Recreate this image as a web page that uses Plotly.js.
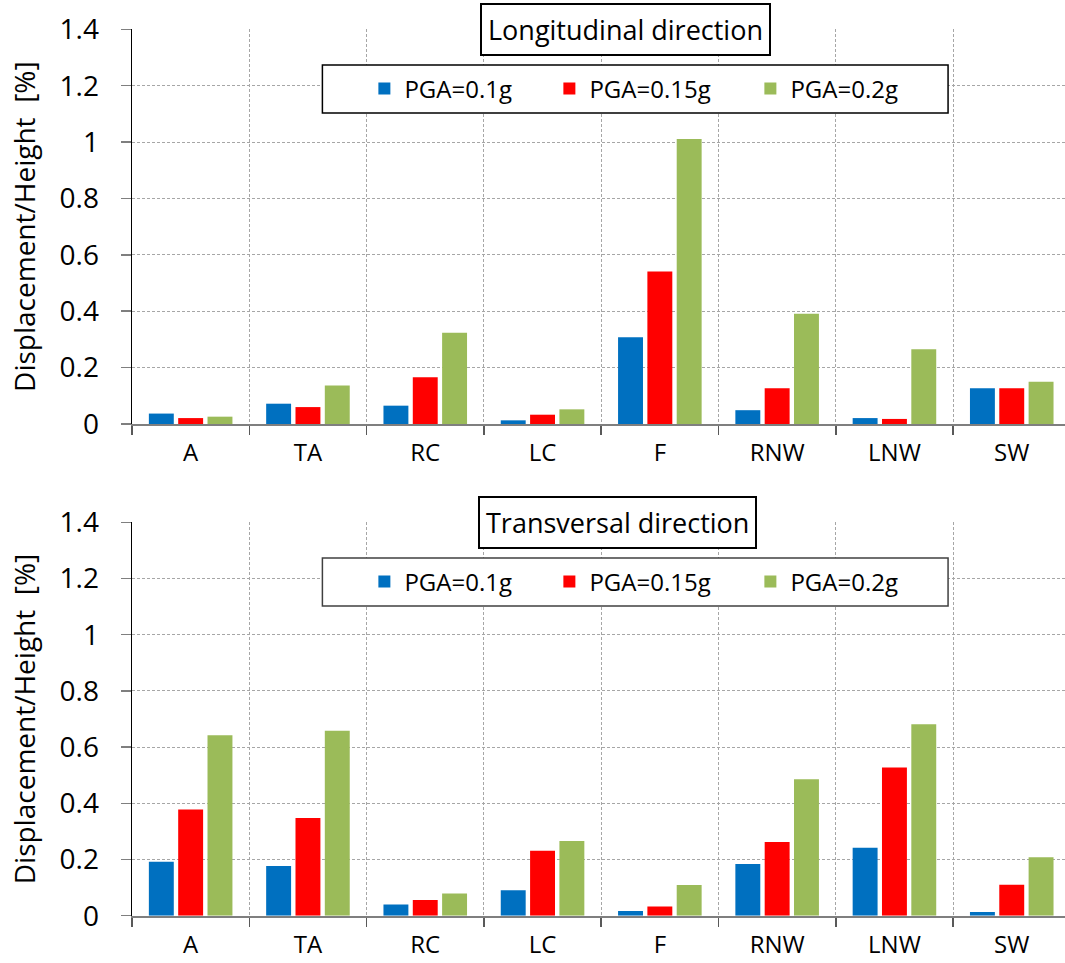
<!DOCTYPE html>
<html><head><meta charset="utf-8">
<script src="https://cdn.plot.ly/plotly-3.0.1.min.js"></script>
<style>html,body{margin:0;padding:0;background:#fff}</style>
</head><body>
<div id="chart" style="width:1065px;height:963px"></div>
<script>
const categories = ['A','TA','RC','LC','F','RNW','LNW','SW'];
const seriesNames = ['PGA=0.1g','PGA=0.15g','PGA=0.2g'];
const longPGA01  = [0.037,0.072,0.065,0.013,0.308,0.049,0.021,0.127];
const longPGA015 = [0.021,0.060,0.166,0.033,0.541,0.127,0.018,0.127];
const longPGA02  = [0.026,0.137,0.324,0.052,1.011,0.391,0.265,0.150];
const transPGA01  = [0.192,0.177,0.040,0.091,0.017,0.184,0.242,0.013];
const transPGA015 = [0.378,0.348,0.056,0.231,0.033,0.262,0.527,0.110];
const transPGA02  = [0.642,0.658,0.079,0.266,0.109,0.486,0.681,0.208];
const yTickVals = [0,0.2,0.4,0.6,0.8,1,1.2,1.4];
const yTickText = ['0','0.2','0.4','0.6','0.8','1','1.2','1.4'];
const panelTitles = ['Longitudinal direction','Transversal direction'];
const yTitle = 'Displacement/Height\u00a0 [%]';

const colors = ['#0070C0','#FF0000','#9BBB59'];
const legendWidths = [140,156,120];
const FONT = 'Open Sans, sans-serif';
const W = 1065, H = 963, ML = 131.5;
const px = x => (x - ML) / (W - ML);
const py = y => (H - y) / H;

const longData = [longPGA01, longPGA015, longPGA02];
const transData = [transPGA01, transPGA015, transPGA02];
const traces = [];
longData.forEach((vals, i) => traces.push({
  type:'bar', x:categories, y:vals, name:seriesNames[i], xaxis:'x', yaxis:'y',
  marker:{color:colors[i]}, legend:'legend', legendwidth:legendWidths[i]
}));
transData.forEach((vals, i) => traces.push({
  type:'bar', x:categories, y:vals, name:seriesNames[i], xaxis:'x2', yaxis:'y2',
  marker:{color:colors[i]}, legend:'legend2', legendwidth:legendWidths[i]
}));

const xAxisBase = {
  type:'category', range:[-0.5, 7.454], tickson:'boundaries',
  ticks:'outside', ticklen:9, tickwidth:1.5, tickcolor:'#595959',
  showgrid:true, gridcolor:'#a6a6a6', griddash:'3px,2px', gridwidth:1,
  showline:true, linecolor:'#7f7f7f', linewidth:2,
  tickfont:{family:FONT, size:24, color:'#000'}, ticklabelstandoff:6,
  fixedrange:true
};
const yAxisBase = {
  range:[0,1.4], tickvals:yTickVals, ticktext:yTickText,
  ticks:'outside', ticklen:10, tickwidth:1.5, tickcolor:'#7f7f7f',
  showgrid:true, gridcolor:'#a6a6a6', griddash:'3px,2px', gridwidth:1,
  showline:true, linecolor:'#000', linewidth:1.5, zeroline:false,
  tickfont:{family:FONT, size:28, color:'#000'}, ticklabelstandoff:16,
  title:{text:yTitle, font:{family:FONT, size:28, color:'#000'}, standoff:15},
  fixedrange:true
};

const legendBase = {
  orientation:'h', xanchor:'left', yanchor:'middle', bgcolor:'rgba(0,0,0,0)',
  borderwidth:0, font:{family:FONT, size:24, color:'#000'}, itemclick:false, itemdoubleclick:false
};

const layout = {
  width:W, height:H, margin:{l:ML, r:0, t:0, b:0},
  paper_bgcolor:'#fff', plot_bgcolor:'#fff',
  barmode:'group', bargap:0.25, bargroupgap:0.15,
  xaxis:Object.assign({}, xAxisBase, {anchor:'y', domain:[0,1]}),
  yaxis:Object.assign({}, yAxisBase, {anchor:'x', domain:[py(424), py(29.3)]}),
  xaxis2:Object.assign({}, xAxisBase, {anchor:'y2', domain:[0,1]}),
  yaxis2:Object.assign({}, yAxisBase, {anchor:'x2', domain:[py(915.7), py(522.3)]}),
  legend:Object.assign({}, legendBase, {x:px(364), y:py(89)}),
  legend2:Object.assign({}, legendBase, {x:px(364), y:py(582)}),
  shapes:[
    {type:'rect', xref:'paper', yref:'paper', x0:px(322), x1:px(948), y0:py(113), y1:py(65),
     fillcolor:'#fff', line:{color:'#000', width:1.5}, layer:'above'},
    {type:'rect', xref:'paper', yref:'paper', x0:px(322), x1:px(948), y0:py(606), y1:py(558),
     fillcolor:'#fff', line:{color:'#404040', width:1.5}, layer:'above'}
  ],
  annotations:[
    {text:panelTitles[0], xref:'paper', yref:'paper', x:px(625), y:py(29.5), xanchor:'center', yanchor:'middle',
     showarrow:false, font:{family:FONT, size:27, color:'#000'}, bgcolor:'#fff', bordercolor:'#000', borderwidth:2, borderpad:6},
    {text:panelTitles[1], xref:'paper', yref:'paper', x:px(617), y:py(522.5), xanchor:'center', yanchor:'middle',
     showarrow:false, font:{family:FONT, size:27, color:'#000'}, bgcolor:'#fff', bordercolor:'#000', borderwidth:2, borderpad:6}
  ]
};

Plotly.newPlot('chart', traces, layout, {displayModeBar:false, staticPlot:true});
</script>
</body></html>
